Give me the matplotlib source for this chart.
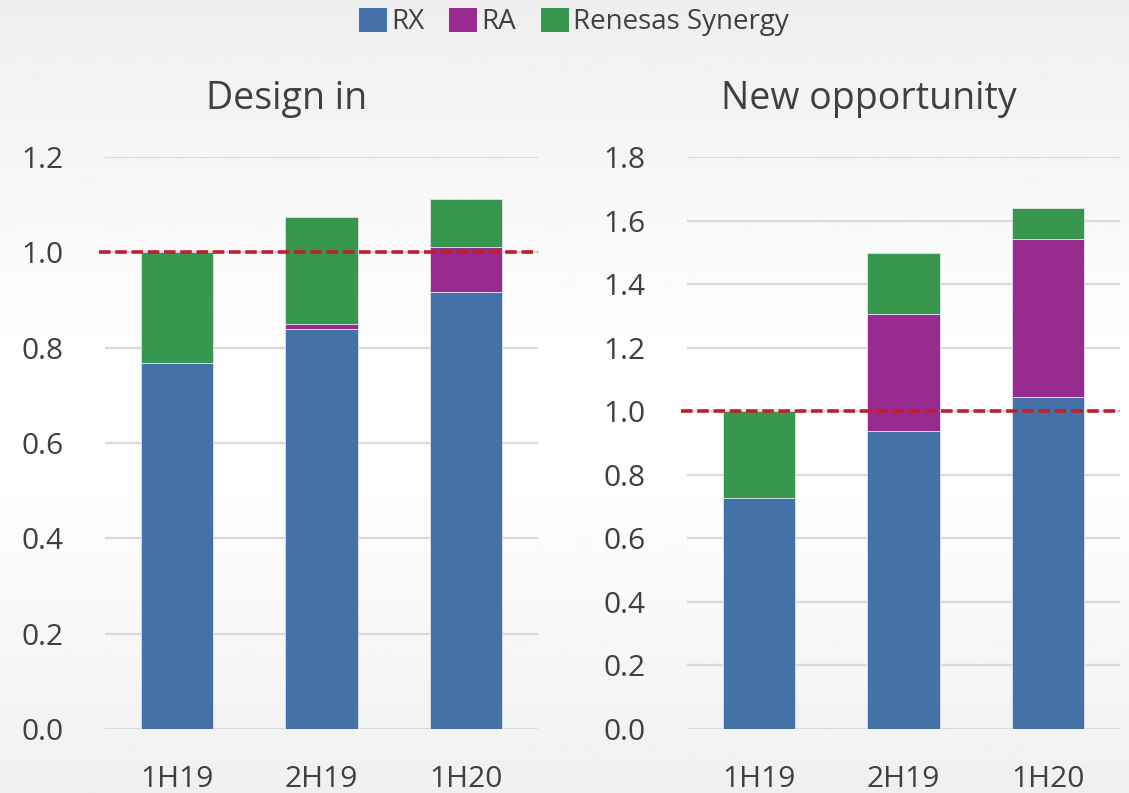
import numpy as np
import matplotlib
matplotlib.use("Agg")
import matplotlib.pyplot as plt
from matplotlib.patches import Patch

plt.rcParams['font.family'] = ['Open Sans', 'DejaVu Sans']

categories = ['1H19', '2H19', '1H20']
series_names = ['RX', 'RA', 'Renesas Synergy']
design_rx = [0.767, 0.839, 0.917]
design_ra = [0.0, 0.011, 0.095]
design_syn = [0.233, 0.225, 0.100]
opp_rx = [0.727, 0.938, 1.045]
opp_ra = [0.0, 0.369, 0.497]
opp_syn = [0.273, 0.190, 0.096]
left_ticks = [0.0, 0.2, 0.4, 0.6, 0.8, 1.0, 1.2]
right_ticks = [0.0, 0.2, 0.4, 0.6, 0.8, 1.0, 1.2, 1.4, 1.6, 1.8]
titles = ['Design in', 'New opportunity']
reference_level = 1.0

colors = ['#4471A8', '#992A8F', '#37974E']
text_color = '#404040'

W, H = 1129, 793
fig = plt.figure(figsize=(W / 100, H / 100), dpi=100)

# background gradient
bg = fig.add_axes([0, 0, 1, 1], zorder=-10)
ys = np.linspace(0, 1, 400)
vals = np.interp(ys, [0, 0.45, 0.6, 1.0], [0.935, 1.0, 1.0, 0.94])
bg.imshow(vals[:, None], aspect='auto', cmap='gray', vmin=0, vmax=1,
          extent=[0, 1, 0, 1], origin='upper')
bg.axis('off')


def fx(px):
    return px / W


def fy(py):
    return 1 - py / H


panels = [
    (105, 538, [design_rx, design_ra, design_syn], left_ticks, titles[0], 286.5),
    (687, 1120, [opp_rx, opp_ra, opp_syn], right_ticks, titles[1], 868.6),
]

for x0, x1, series, ticks, title, tx in panels:
    ax = fig.add_axes([fx(x0), fy(729), fx(x1 - x0), fy(157) - fy(729)])
    ax.set_facecolor('none')
    x = np.arange(len(categories))
    bottom = np.zeros(len(categories))
    for vals_s, c in zip(series, colors):
        ax.bar(x, vals_s, width=0.5, bottom=bottom, color=c,
               edgecolor='#dde3ea', linewidth=0.6, zorder=3)
        bottom += np.array(vals_s)
    ax.set_xlim(-0.5, 2.5)
    ax.set_ylim(ticks[0], ticks[-1])
    ax.set_yticks(ticks)
    ax.set_yticklabels([f'{t:.1f}' for t in ticks])
    ax.set_xticks(x)
    ax.set_xticklabels(categories)
    ax.tick_params(axis='both', length=0, labelsize=21.5, colors=text_color)
    ax.tick_params(axis='y', pad=30)
    ax.tick_params(axis='x', pad=26)
    for s in ax.spines.values():
        s.set_visible(False)
    ax.grid(axis='y', color='#D9D9D9', linewidth=1.6, zorder=0)
    ax.set_axisbelow(True)
    ax.plot([-0.54, 2.5], [reference_level, reference_level], color='#C0202A',
            linewidth=2.6, dashes=(3.2, 1.3), zorder=5, clip_on=False)
    fig.text(fx(tx), fy(109), title, ha='center', va='baseline',
             fontsize=27, color=text_color)

handles = [Patch(facecolor=c, edgecolor='none') for c in colors]
fig.legend(handles, series_names, loc='center', bbox_to_anchor=(fx(574), fy(22)),
           ncol=3, frameon=False, fontsize=20, handlelength=1.0, handleheight=1.0,
           handletextpad=0.15, columnspacing=0.9, labelcolor=text_color,
           borderpad=0)

fig.savefig('out.png', dpi=100)
